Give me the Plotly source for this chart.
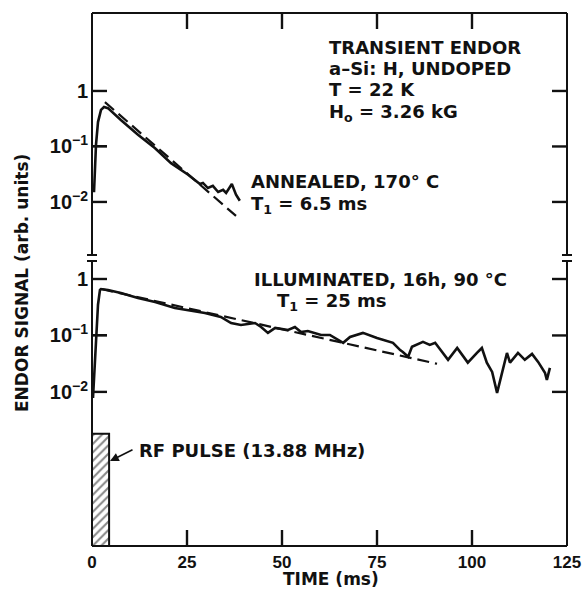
import math
import plotly.graph_objects as go

# ---------------- data ----------------
annealed_t = [0.53, 1.05, 1.58, 2.37, 3.16, 4.2, 7.6, 12.1, 16.6, 20.8, 25.3, 28.4, 29.2,
              30.5, 31.8, 33.2, 34.5, 35.3, 36.8, 37.9, 38.9]
annealed_sig = [0.015, 0.107, 0.275, 0.457, 0.513, 0.49, 0.30, 0.162, 0.093, 0.050, 0.031,
                0.021, 0.022, 0.0178, 0.0195, 0.0151, 0.0166, 0.0145, 0.021, 0.0135, 0.0105]
annealed_fit_t = [3.4, 37.9]
annealed_fit_sig = [0.63, 0.0056]

illum_t = [0.26, 1.05, 1.58, 2.1, 2.37, 4.2, 7.6, 12.1, 16.6, 21.8, 25.3, 29.7, 33.9, 36.6,
           39.2, 42.9, 44.5, 46.3, 48.2, 51.6, 53.4, 55.0, 56.8, 60.3, 62.6, 66.1, 67.9,
           71.3, 75.0, 79.2, 81.1, 81.8, 83.2, 84.2, 87.1, 88.9, 90.3, 93.7, 96.1, 98.9,
           101.3, 102.6, 103.9, 105.3, 106.6, 107.9, 109.2, 110.0, 112.1, 113.9, 115.8,
           117.4, 119.2, 119.7, 120.5]
illum_sig = [0.0078, 0.102, 0.35, 0.64, 0.665, 0.64, 0.565, 0.46, 0.39, 0.307, 0.283, 0.25,
             0.213, 0.166, 0.153, 0.166, 0.141, 0.111, 0.136, 0.125, 0.141, 0.115, 0.12,
             0.102, 0.102, 0.074, 0.094, 0.111, 0.090, 0.074, 0.055, 0.051, 0.042, 0.063,
             0.077, 0.068, 0.074, 0.037, 0.060, 0.033, 0.049, 0.060, 0.033, 0.0226, 0.0096,
             0.0226, 0.049, 0.033, 0.049, 0.037, 0.047, 0.034, 0.0218, 0.0163, 0.0266]
illum_fit_t = [2.4, 90.8]
illum_fit_sig = [0.665, 0.0315]

pulse_t = [0.0, 4.5]          # RF pulse duration (ms)
pulse_top = 10 ** -2.74       # drawn height of the pulse box on the lower scale
pulse_floor = 10 ** -4.73

x_ticks = [0, 25, 50, 75, 100, 125]
x_inner_ticks = [25, 50, 75, 100]
y_ticks = [0.01, 0.1, 1]
y_ticktext = ["<b>10<sup>−2</sup></b>", "<b>10<sup>−1</sup></b>", "<b>1</b>"]

# ---------------- geometry ----------------
L, R, T, B = 92, 567, 13, 546
W, H = 583, 590
X_RANGE = [0, 125]
Y_LOW_RANGE = [-4.73, 0.372]     # log10 range, lower (illuminated) panel
Y_HIGH_RANGE = [-3.01, 1.405]    # log10 range, upper (annealed) panel


def pxx(p):
    return (p - L) / (R - L)


def pxy(p):
    return (B - p) / (B - T)


split = pxy(258)
LOW_DOM = [0, split]
HIGH_DOM = [split, 1]

MS_PER_PX = (X_RANGE[1] - X_RANGE[0]) / (R - L)
DEC_PER_PX_LOW = (Y_LOW_RANGE[1] - Y_LOW_RANGE[0]) / ((LOW_DOM[1] - LOW_DOM[0]) * (B - T))
DEC_PER_PX_HIGH = (Y_HIGH_RANGE[1] - Y_HIGH_RANGE[0]) / ((HIGH_DOM[1] - HIGH_DOM[0]) * (B - T))
TICK_LEN_X, TICK_LEN_Y = 16, 15

BLACK = "#111111"
CLEAR = "rgba(0,0,0,0)"
TXT = dict(family="DejaVu Sans", size=18, color=BLACK, weight="bold")

fig = go.Figure()

# lower panel: illuminated
fig.add_trace(go.Scatter(x=illum_t, y=illum_sig, mode="lines",
                         line=dict(color=BLACK, width=2.6), xaxis="x", yaxis="y"))
fig.add_trace(go.Scatter(x=illum_fit_t, y=illum_fit_sig, mode="lines",
                         line=dict(color=BLACK, width=2.2, dash="12px,6px"),
                         xaxis="x", yaxis="y"))
# RF pulse box
fig.add_trace(go.Scatter(
    x=[pulse_t[0], pulse_t[0], pulse_t[1], pulse_t[1], pulse_t[0]],
    y=[pulse_floor, pulse_top, pulse_top, pulse_floor, pulse_floor],
    mode="lines", fill="toself", fillcolor="white",
    fillpattern=dict(shape="/", fgcolor=BLACK, bgcolor="white", size=6, solidity=0.35),
    line=dict(color=BLACK, width=2), xaxis="x", yaxis="y"))

# upper panel: annealed
fig.add_trace(go.Scatter(x=annealed_t, y=annealed_sig, mode="lines",
                         line=dict(color=BLACK, width=2.6), xaxis="x2", yaxis="y2"))
fig.add_trace(go.Scatter(x=annealed_fit_t, y=annealed_fit_sig, mode="lines",
                         line=dict(color=BLACK, width=2.2, dash="12px,6px"),
                         xaxis="x2", yaxis="y2"))


# ---- inside tick marks, drawn as line segments through the axes' scales ----
def tick_segments(rng, dec_per_px, x_side):
    xs, ys = [], []
    if x_side == "bottom":
        y0 = rng[0]
        y1 = rng[0] + TICK_LEN_X * dec_per_px
    else:
        y0 = rng[1]
        y1 = rng[1] - TICK_LEN_X * dec_per_px
    for v in x_inner_ticks:
        xs += [v, v, None]
        ys += [10 ** y0, 10 ** y1, None]
    dx = TICK_LEN_Y * MS_PER_PX
    for v in y_ticks:
        xs += [X_RANGE[0], X_RANGE[0] + dx, None, X_RANGE[1] - dx, X_RANGE[1], None]
        ys += [v, v, None, v, v, None]
    return xs, ys


lx, ly = tick_segments(Y_LOW_RANGE, DEC_PER_PX_LOW, "bottom")
fig.add_trace(go.Scatter(x=lx, y=ly, mode="lines", line=dict(color=BLACK, width=2.4),
                         connectgaps=False, hoverinfo="skip", xaxis="x", yaxis="y"))
hx, hy = tick_segments(Y_HIGH_RANGE, DEC_PER_PX_HIGH, "top")
fig.add_trace(go.Scatter(x=hx, y=hy, mode="lines", line=dict(color=BLACK, width=2.4),
                         connectgaps=False, hoverinfo="skip", xaxis="x2", yaxis="y2"))

tickfont = dict(family="Liberation Sans", size=17, color=BLACK, weight="bold")
ytickfont = dict(family="Liberation Sans", size=20, color=BLACK, weight="bold")

# frame shapes with axis-break marks
gap_hi, gap_lo = pxy(255), pxy(261)
cap = 5 / (R - L)
shapes = [
    dict(type="line", xref="paper", yref="paper", x0=0, x1=1, y0=1, y1=1),
    dict(type="line", xref="paper", yref="paper", x0=0, x1=1, y0=0, y1=0),
    dict(type="line", xref="paper", yref="paper", x0=0, x1=0, y0=0, y1=gap_lo),
    dict(type="line", xref="paper", yref="paper", x0=0, x1=0, y0=gap_hi, y1=1),
    dict(type="line", xref="paper", yref="paper", x0=1, x1=1, y0=0, y1=gap_lo),
    dict(type="line", xref="paper", yref="paper", x0=1, x1=1, y0=gap_hi, y1=1),
]
for xc in (0, 1):
    for yc in (gap_hi, gap_lo):
        shapes.append(dict(type="line", xref="paper", yref="paper",
                           x0=xc - cap, x1=xc + cap, y0=yc, y1=yc))
for s in shapes:
    s["line"] = dict(color=BLACK, width=2)

annotations = []


def label(text, x_px, y_px, size=18):
    f = dict(TXT)
    f["size"] = size
    annotations.append(dict(text=text, xref="paper", yref="paper", x=pxx(x_px), y=pxy(y_px),
                            xanchor="left", yanchor="middle", showarrow=False, font=f))


label("TRANSIENT ENDOR", 327, 47)
label("a–Si: H, UNDOPED", 327, 68)
label("T = 22 K", 327, 90)
label("H<sub>o</sub> = 3.26 kG", 327, 113)
label("ANNEALED, 170° C", 249, 181)
label("T<sub>1</sub> = 6.5 ms", 249, 205)
label("ILLUMINATED, 16h, 90 °C", 252, 279)
label("T<sub>1</sub> = 25 ms", 275, 302)
label("RF PULSE (13.88 MHz)", 137, 450)

# arrow to RF pulse
annotations.append(dict(text="", xref="paper", yref="paper", x=pxx(110), y=pxy(461),
                        ax=24, ay=-12, showarrow=True, arrowhead=2, arrowsize=1.1,
                        arrowwidth=1.6, arrowcolor=BLACK))

# axis titles
annotations.append(dict(text="ENDOR SIGNAL (arb. units)", xref="paper", yref="paper",
                        x=pxx(22), y=pxy(283), textangle=-90, showarrow=False,
                        xanchor="center", yanchor="middle",
                        font=dict(family="DejaVu Sans", size=17, color=BLACK, weight="bold")))
annotations.append(dict(text="TIME (ms)", xref="paper", yref="paper",
                        x=pxx(331), y=pxy(579), showarrow=False,
                        xanchor="center", yanchor="middle",
                        font=dict(family="DejaVu Sans", size=17, color=BLACK, weight="bold")))

common = dict(ticks="inside", ticklen=15, tickwidth=2, tickcolor=BLACK, showline=False,
              showgrid=False, zeroline=False, automargin=False)

fig.update_layout(
    width=W, height=H,
    margin=dict(l=L, r=W - R, t=T, b=H - B, pad=0),
    paper_bgcolor="white", plot_bgcolor=CLEAR,
    showlegend=False,
    xaxis=dict(domain=[0, 1], range=X_RANGE, anchor="y", tickmode="array", tickvals=x_ticks,
               tickfont=tickfont, ticklabelstandoff=4, **common),
    xaxis2=dict(domain=[0, 1], range=X_RANGE, anchor="y2", side="top", tickmode="array",
                tickvals=x_inner_ticks, showticklabels=False, **common),
    yaxis=dict(domain=LOW_DOM, type="log", range=Y_LOW_RANGE, anchor="x",
               tickmode="array", tickvals=y_ticks, ticktext=y_ticktext,
               tickfont=ytickfont, ticklabelstandoff=3, **common),
    yaxis2=dict(domain=HIGH_DOM, type="log", range=Y_HIGH_RANGE, anchor="x2",
                tickmode="array", tickvals=y_ticks, ticktext=y_ticktext,
                tickfont=ytickfont, ticklabelstandoff=3, **common),
    shapes=shapes,
    annotations=annotations,
)

fig.write_html("out.html")
